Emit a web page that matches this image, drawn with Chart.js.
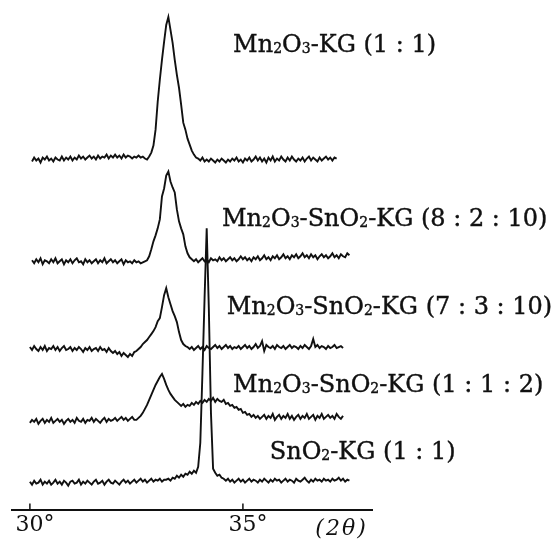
<!DOCTYPE html>
<html>
<head>
<meta charset="utf-8">
<script src="https://cdn.jsdelivr.net/npm/chart.js@4.4.1/dist/chart.umd.min.js"></script>
<style>
  html, body { margin: 0; padding: 0; background: #fff; }
  #wrap { width: 558px; height: 540px; }
</style>
</head>
<body>
<div id="wrap"><canvas id="xrd" width="558" height="540"></canvas></div>
<script>
// 2-theta grid (deg), shared by every pattern
const twoTheta = [
  30.00, 30.05, 30.10, 30.15, 30.20, 30.25, 30.30, 30.35, 30.40, 30.45,
  30.50, 30.55, 30.60, 30.65, 30.70, 30.75, 30.80, 30.85, 30.90, 30.95,
  31.00, 31.05, 31.10, 31.15, 31.20, 31.25, 31.30, 31.35, 31.40, 31.45,
  31.50, 31.55, 31.60, 31.65, 31.70, 31.75, 31.80, 31.85, 31.90, 31.95,
  32.00, 32.05, 32.10, 32.15, 32.20, 32.25, 32.30, 32.35, 32.40, 32.45,
  32.50, 32.55, 32.60, 32.65, 32.70, 32.75, 32.80, 32.85, 32.90, 32.95,
  33.00, 33.05, 33.10, 33.15, 33.20, 33.25, 33.30, 33.35, 33.40, 33.45,
  33.50, 33.55, 33.60, 33.65, 33.70, 33.75, 33.80, 33.85, 33.90, 33.95,
  34.00, 34.05, 34.10, 34.15, 34.20, 34.25, 34.30, 34.35, 34.40, 34.45,
  34.50, 34.55, 34.60, 34.65, 34.70, 34.75, 34.80, 34.85, 34.90, 34.95,
  35.00, 35.05, 35.10, 35.15, 35.20, 35.25, 35.30, 35.35, 35.40, 35.45,
  35.50, 35.55, 35.60, 35.65, 35.70, 35.75, 35.80, 35.85, 35.90, 35.95,
  36.00, 36.05, 36.10, 36.15, 36.20, 36.25, 36.30, 36.35, 36.40, 36.45,
  36.50, 36.55, 36.60, 36.65, 36.70, 36.75, 36.80, 36.85, 36.90, 36.95,
  37.00, 37.05, 37.10, 37.15, 37.20, 37.25, 37.30, 37.35, 37.40, 37.45,
  37.50
];

const sampleNames = [
  'Mn2O3-KG (1 : 1)',
  'Mn2O3-SnO2-KG (8 : 2 : 10)',
  'Mn2O3-SnO2-KG (7 : 3 : 10)',
  'Mn2O3-SnO2-KG (1 : 1 : 2)',
  'SnO2-KG (1 : 1)'
];

// vertical shift of each trace (stacked plot, arbitrary units)
const stackOffsets = [351, 249, 161, 89, 27];

// intensities above each trace's own baseline (null = not recorded)
const mnKG = [
  null, -2, 2, -1, 1, -3, 2, 0, 3, -1,
  1, -2, 2, 0, -1, 3, -1, 2, 0, 3,
  -1, 2, 0, 4, 1, 3, 0, 2, 4, 1,
  3, 0, 4, 1, 3, 2, 5, 1, 4, 2,
  5, 2, 4, 1, 5, 2, 4, 3, 1, 3,
  2, 4, 2, 3, 1, 0, 3, 7, 14, 30,
  58, 80, 100, 118, 135, 143, 130, 117, 100, 85,
  72, 55, 37, 30, 21, 15, 9, 5, 2, 1,
  -1, 2, -2, 0, -2, 1, -1, -3, 0, -2,
  1, -1, -3, 0, -2, 1, -1, 2, -2, 0,
  -3, 1, -1, 2, -2, 0, 3, -1, 2, -2,
  1, -3, 2, -1, 3, -2, 1, -1, 3, 0,
  -2, 2, -1, 3, 0, -2, 1, -1, 2, -2,
  1, 3, -1, 2, 0, -2, 2, -1, 1, 3,
  0, 2, -1, 2, 1, null, null, null, null, null,
  null
];
const mix8210 = [
  null, 1, -2, 2, -1, 3, -3, 1, 0, -2,
  2, -1, 3, -2, 0, 2, -3, 1, -1, 2,
  -2, 1, 3, -1, 0, -3, 2, -1, 1, -2,
  0, 2, -2, 1, -1, 3, -2, 0, 2, -1,
  1, -2, 0, 2, -3, 1, -1, 0, -2, 1,
  -1, 0, -2, -1, 0, 1, 5, 12, 20, 26,
  33, 42, 65, 73, 86, 90, 80, 74, 69, 52,
  40, 33, 27, 15, 8, 4, 2, 0, 2, -1,
  1, 3, 0, 2, -1, 3, 1, 2, 0, 4,
  1, 3, 0, 2, 4, 1, 3, 0, 2, 5,
  2, 4, 1, 3, 0, 4, 2, 5, 1, 3,
  6, 2, 4, 1, 5, 3, 6, 2, 4, 7,
  3, 5, 2, 6, 4, 7, 3, 5, 8, 4,
  6, 3, 7, 4, 6, 2, 5, 7, 4, 6,
  3, 5, 8, 4, 6, 3, 7, 5, 4, 8,
  6
];
const mix7310 = [
  2, -1, 3, 0, -2, 2, -1, 3, -2, 1,
  0, 3, -1, 2, -2, 1, 3, -1, 0, 2,
  -2, 1, -1, 2, 0, -3, 1, -1, 2, -2,
  0, 1, -2, 2, -1, 0, -3, 1, -2, -4,
  -2, -5, -3, -7, -4, -6, -8, -5, -7, -3,
  -2, 0, 2, 5, 7, 9, 12, 15, 18, 22,
  28, 31, 42, 54, 61, 52, 45, 38, 33, 27,
  17, 9, 5, 3, 2, 0, 2, -1, 1, 3,
  0, 2, -1, 3, 1, 0, 2, 4, 1, 3,
  0, 2, 4, 1, 3, 0, 2, 1, 3, 0,
  2, 4, 1, 3, 0, 2, 5, 1, 3, 8,
  -2, 4, 2, 1, 3, 0, 4, 2, 1, 3,
  0, 2, 4, 1, 3, 2, 0, 3, 1, 4,
  2, 0, 3, 10, 2, 4, 1, 3, 2, 0,
  3, 1, 2, 4, 1, 2, 3, 1, null, null,
  null
];
const mix112 = [
  -2, 1, -1, 2, -3, 0, 2, -2, 1, -1,
  3, -2, 0, 2, -1, 1, -3, 0, 2, -1,
  1, -2, 3, 0, -1, 2, -2, 1, 0, 3,
  -1, 2, 0, -2, 1, 3, -1, 2, 0, 1,
  3, 0, 2, 4, 1, 3, 0, 2, 4, 1,
  1, 3, 5, 8, 12, 16, 21, 26, 31, 36,
  40, 44, 47, 42, 36, 31, 27, 24, 21, 19,
  17, 15, 17, 14, 16, 15, 18, 16, 19, 17,
  20, 18, 21, 19, 22, 20, 23, 19, 22, 20,
  19, 21, 17, 18, 15, 16, 13, 14, 11, 12,
  8, 9, 6, 7, 4, 6, 3, 5, 2, 4,
  6, 2, 5, 3, 7, 1, 4, 6, 2, 5,
  3, 7, 2, 5, 1, 4, 6, 2, 5, 3,
  7, 2, 4, 6, 1, 5, 3, 7, 2, 4,
  6, 3, 5, 2, 7, 4, 2, 5, null, null,
  null
];
const snKG = [
  1, -2, 2, -1, 0, 3, -2, 1, -1, 2,
  -2, 0, 3, -1, 1, -2, 2, 0, -3, 1,
  2, -1, 0, 3, -2, 1, -1, 2, 0, -2,
  1, 3, -1, 0, 2, -2, 1, 3, 0, -1,
  2, 0, -2, 1, 3, 0, 2, -1, 1, 3,
  0, 2, 4, 1, 3, 0, 2, 4, 1, 3,
  2, 4, 1, 3, 3, 4, 2, 5, 4, 7,
  5, 8, 6, 9, 8, 11, 9, 12, 10, 16,
  40, 110, 185, 255, 175, 70, 14, 10, 7, 8,
  5, 4, 2, 4, 1, 3, 0, 2, 4, 1,
  3, 0, 2, 4, 1, 3, 2, 0, 3, 1,
  4, 2, 0, 3, 1, 4, 2, 3, 0, 2,
  4, 1, 3, 2, 0, 4, 2, 1, 3, 5,
  2, 0, 3, 1, 4, 2, 3, 1, 4, 2,
  3, 1, 4, 2, 3, 5, 2, 4, 1, 3,
  2
];
const patterns = [mnKG, mix8210, mix7310, mix112, snKG];

const tickDegrees = [30, 35];

// where each sample name sits, in axis units (2theta, stacked intensity)
const labelAnchors = [[34.77, 459], [34.51, 284], [34.62, 196], [34.77, 118], [35.63, 51]];

const INK = '#111';
const SERIF = '"DejaVu Serif", "Liberation Serif", serif';

const datasets = patterns.map((vals, k) => ({
  label: sampleNames[k],
  data: twoTheta.map((t, i) => ({ x: t, y: vals[i] === null ? null : stackOffsets[k] + vals[i] })),
  borderColor: INK,
  borderWidth: 1.9,
  pointRadius: 0,
  tension: 0,
  spanGaps: false
}));

// split "Mn2O3" style names so digits after a letter become subscripts
function formulaParts(name) {
  const parts = [];
  for (let i = 0; i < name.length; i++) {
    const c = name[i];
    const sub = /\d/.test(c) && i > 0 && /[A-Za-z]/.test(name[i - 1]);
    const last = parts[parts.length - 1];
    if (last && last.sub === sub) last.text += c;
    else parts.push({ text: c, sub });
  }
  return parts;
}

const labelPlugin = {
  id: 'xrdLabels',
  afterDraw(chart) {
    const { ctx, scales: { x, y }, chartArea } = chart;
    ctx.save();
    ctx.fillStyle = INK;
    ctx.strokeStyle = INK;
    ctx.textBaseline = 'alphabetic';
    ctx.textAlign = 'left';

    // sample names (a hairline stroke gives the heavier print look)
    ctx.lineWidth = 0.4;
    sampleNames.forEach((name, k) => {
      let px = x.getPixelForValue(labelAnchors[k][0]);
      const py = y.getPixelForValue(labelAnchors[k][1]);
      formulaParts(name).forEach(p => {
        ctx.font = p.sub ? '14px ' + SERIF : '24px ' + SERIF;
        const ty = p.sub ? py + 1 : py;
        ctx.fillText(p.text, px, ty);
        ctx.strokeText(p.text, px, ty);
        px += ctx.measureText(p.text).width;
      });
    });

    // short tick marks pointing up from the axis
    ctx.lineWidth = 1.5;
    tickDegrees.forEach(d => {
      const tx = x.getPixelForValue(d);
      ctx.beginPath();
      ctx.moveTo(tx, chartArea.bottom);
      ctx.lineTo(tx, chartArea.bottom - 6);
      ctx.stroke();
    });

    // axis unit
    ctx.font = 'italic 22px ' + SERIF;
    ctx.textAlign = 'right';
    ctx.letterSpacing = '2px';
    ctx.fillText('(2θ)', x.getPixelForValue(37.93), chartArea.bottom + 25);
    ctx.restore();
  }
};

new Chart(document.getElementById('xrd'), {
  type: 'line',
  data: { datasets },
  options: {
    responsive: false,
    animation: false,
    layout: { padding: { left: 12, right: 186, top: 0, bottom: 0 } },
    plugins: { legend: { display: false }, tooltip: { enabled: false } },
    scales: {
      x: {
        type: 'linear',
        min: 29.58,
        max: 38.03,
        afterBuildTicks: axis => { axis.ticks = tickDegrees.map(v => ({ value: v })); },
        grid: { display: false, drawTicks: false },
        border: { display: true, color: INK, width: 2 },
        ticks: {
          color: INK,
          font: { family: SERIF, size: 22 },
          padding: 2,
          labelOffset: 5,
          maxRotation: 0,
          autoSkip: false,
          callback: v => v + '°'
        }
      },
      y: { display: false, min: 0, max: 511 }
    }
  },
  plugins: [labelPlugin]
});
</script>
</body>
</html>
